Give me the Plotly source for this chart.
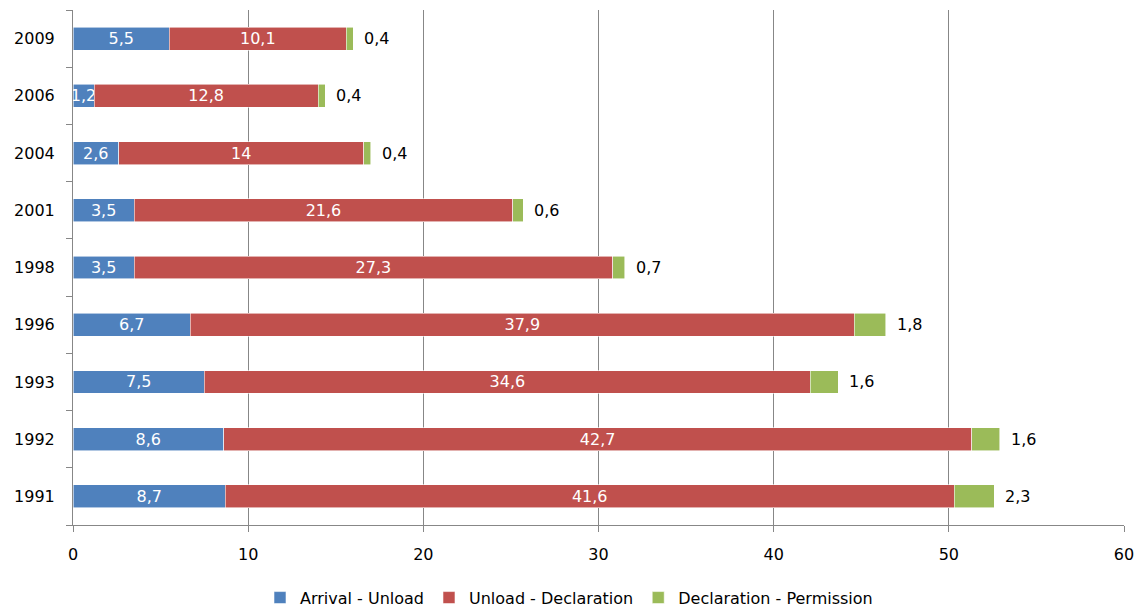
import plotly.graph_objects as go

years = ["1991", "1992", "1993", "1996", "1998", "2001", "2004", "2006", "2009"]
arrival_unload = [8.7, 8.6, 7.5, 6.7, 3.5, 3.5, 2.6, 1.2, 5.5]
unload_declaration = [41.6, 42.7, 34.6, 37.9, 27.3, 21.6, 14.0, 12.8, 10.1]
declaration_permission = [2.3, 1.6, 1.6, 1.8, 0.7, 0.6, 0.4, 0.4, 0.4]

x_ticks = [0, 10, 20, 30, 40, 50, 60]

FONT = "DejaVu Sans"
GRID = "#878787"
SIZE = 16


def comma(values):
    return [f"{v:g}".replace(".", ",") for v in values]


series = [
    ("Arrival - Unload", arrival_unload, "#4F81BD", True),
    ("Unload - Declaration", unload_declaration, "#C0504D", True),
    ("Declaration - Permission", declaration_permission, "#9BBB59", False),
]

fig = go.Figure()
for name, vals, color, inside in series:
    fig.add_trace(go.Bar(
        name=name,
        y=years,
        x=vals,
        orientation="h",
        marker=dict(color=color, line=dict(width=0.8, color="rgba(255,255,255,0.7)")),
        text=comma(vals) if inside else None,
        textposition="inside" if inside else "none",
        insidetextanchor="middle",
        textangle=0,
        constraintext="none",
        insidetextfont=dict(family=FONT, size=SIZE, color="white"),
    ))

# value labels for the last segment, placed just past the end of each stack
totals = [a + b + c for a, b, c in zip(arrival_unload, unload_declaration, declaration_permission)]
for idx, (tot, lab) in enumerate(zip(totals, comma(declaration_permission))):
    fig.add_annotation(
        x=tot, y=idx, xref="x", yref="y", text=lab, showarrow=False,
        xanchor="left", yanchor="middle", xshift=9,
        font=dict(family=FONT, size=SIZE, color="#000000"),
    )

fig.update_layout(
    barmode="stack",
    bargap=0.6,
    width=1138,
    height=608,
    margin=dict(l=73, r=14, t=10, b=83, autoexpand=False),
    plot_bgcolor="white",
    paper_bgcolor="white",
    font=dict(family=FONT, size=SIZE, color="#000000"),
    legend=dict(
        orientation="h",
        traceorder="normal",
        x=0.5, xanchor="center", xref="container",
        y=0.017, yanchor="middle", yref="container",
        font=dict(family=FONT, size=SIZE, color="#000000"),
        itemwidth=30,
    ),
    xaxis=dict(
        range=[0, 60],
        tickvals=x_ticks,
        ticktext=[str(t) for t in x_ticks],
        showgrid=True,
        gridcolor=GRID,
        gridwidth=1,
        showline=True,
        linecolor=GRID,
        linewidth=1,
        ticks="outside",
        ticklen=6,
        tickcolor=GRID,
        zeroline=False,
        tickfont=dict(family=FONT, size=SIZE),
        ticklabelstandoff=9,
        automargin=False,
    ),
    yaxis=dict(
        type="category",
        categoryorder="array",
        categoryarray=years,
        range=[-0.5, len(years) - 0.5],
        showline=True,
        linecolor=GRID,
        linewidth=1,
        ticks="outside",
        tickson="boundaries",
        ticklen=6,
        tickcolor=GRID,
        showgrid=False,
        tickfont=dict(family=FONT, size=SIZE),
        ticklabelstandoff=14,
        automargin=False,
    ),
)

fig.write_html("out.html")
